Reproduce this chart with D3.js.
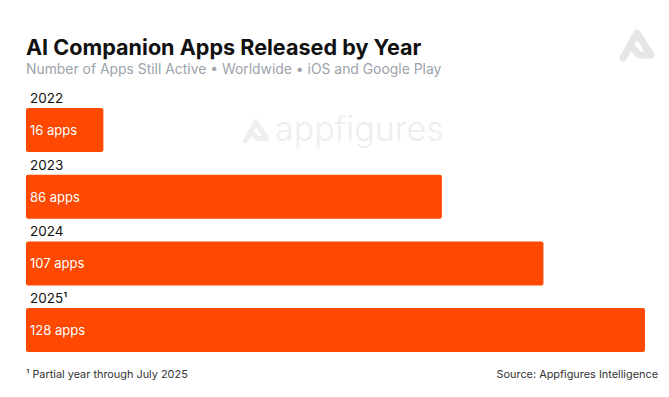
<!DOCTYPE html>
<html><head><meta charset="utf-8">
<script src="https://cdn.jsdelivr.net/npm/d3@7"></script>
<style>body{margin:0;background:#fff}svg{display:block;font-family:Inter,"Noto Sans",sans-serif}</style>
</head><body><svg id="c" width="669" height="397"></svg>
<script>
const years = ["2022","2023","2024","2025"];
const yearSup = ["","","","¹"];
const values = [16, 86, 107, 128];
const valueLabels = ["16 apps","86 apps","107 apps","128 apps"];
const title = "AI Companion Apps Released by Year";
const subtitle = "Number of Apps Still Active • Worldwide • iOS and Google Play";
const footnote = "¹ Partial year through July 2025";
const source = "Source: Appfigures Intelligence";

const svg = d3.select("#c");
const x = d3.scaleLinear().domain([0, 128]).range([26, 645]);
const barH = 44;
const groupStep = 66.7;
const barTop = i => 108 + i * groupStep;

function logo(g, s, col) {
  g.append("path")
    .attr("d", "M-14,13 L0,-12 L14,10 M14,10 L2,10 L-5,2")
    .attr("fill","none").attr("stroke",col).attr("stroke-width",7)
    .attr("stroke-linecap","round").attr("stroke-linejoin","round")
    .attr("transform", `scale(${s})`);
}
logo(svg.append("g").attr("transform","translate(637,45)"), 1, "#e6e6e6");
const wm = svg.append("g").attr("transform","translate(256,131)");
logo(wm.append("g"), 0.75, "#efefef");
svg.append("text").attr("x",275).attr("y",141).attr("font-size",34).attr("fill","#eeeeee")
  .attr("font-family","Inter, sans-serif").attr("font-weight",300).text("appfigures");

svg.append("text").attr("x",26).attr("y",55).attr("font-size",21.6).attr("font-weight",700)
  .attr("fill","#111").text(title);
svg.append("text").attr("x",26).attr("y",74).attr("font-size",13.9)
  .attr("fill","#9ca3ab").text(subtitle);

const g = svg.append("g");
years.forEach((yr, i) => {
  g.append("text").attr("x",30).attr("y",barTop(i)-5).attr("font-size",13.5).attr("fill","#111")
    .text(yr + yearSup[i]);
  g.append("rect").attr("x",x(0)).attr("y",barTop(i)).attr("width",x(values[i])-x(0)).attr("height",barH)
    .attr("rx",2).attr("fill","#ff4800");
  g.append("text").attr("x",x(0)+4).attr("y",barTop(i)+barH/2+5).attr("font-size",13)
    .attr("fill","#fff").text(valueLabels[i]);
});

svg.append("text").attr("x",26).attr("y",378).attr("font-size",10.9).attr("fill","#333").text(footnote);
svg.append("text").attr("x",658).attr("y",378).attr("font-size",10.9).attr("fill","#333")
  .attr("text-anchor","end").text(source);
</script></body></html>
